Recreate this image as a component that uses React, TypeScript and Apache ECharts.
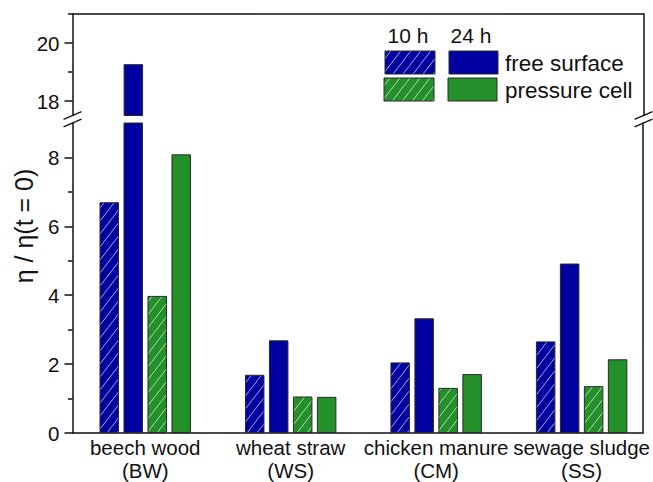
import React, { useEffect, useRef } from "react";
import * as echarts from "echarts";

// Feedstocks along the x axis
const categories = ["beech wood\n(BW)", "wheat straw\n(WS)", "chicken manure\n(CM)", "sewage sludge\n(SS)"];

// Relative viscosity η / η(t = 0)
const free10h = [6.7, 1.69, 2.05, 2.66];
const free24h = [19.27, 2.69, 3.33, 4.92];
const pressure10h = [3.98, 1.06, 1.31, 1.36];
const pressure24h = [8.09, 1.05, 1.71, 2.14];

// Broken y axis: lower and upper segments
const lowerRange = [0, 9];
const upperRange = [17.5, 21];
const lowerMajorTicks = [0, 2, 4, 6, 8];
const lowerMinorTicks = [1, 3, 5, 7];
const upperMajorTicks = [18, 20];
const upperMinorTicks = [19, 21];
const categoryPositions = [1, 2, 3, 4];

const BLUE = "#0000a0";
const GREEN = "#23902a";
const INK = "#111";
const FONT = "Liberation Sans, Arial, sans-serif";

function hatch(base: string) {
  const w = 10;
  const h = 13;
  const c = document.createElement("canvas");
  c.width = w;
  c.height = h;
  const ctx = c.getContext("2d")!;
  ctx.fillStyle = base;
  ctx.fillRect(0, 0, w, h);
  ctx.strokeStyle = "rgba(255,255,255,0.65)";
  ctx.lineWidth = 1;
  for (let k = -1; k <= 1; k++) {
    ctx.beginPath();
    ctx.moveTo(k * w - w, 2 * h);
    ctx.lineTo(k * w + 2 * w, -h);
    ctx.stroke();
  }
  return { image: c, repeat: "repeat", imageWidth: w, imageHeight: h } as any;
}

export default function App() {
  const ref = useRef<HTMLDivElement>(null);

  useEffect(() => {
    document.body.style.margin = "0";
    const chart = echarts.init(ref.current!, null, { renderer: "svg" });

    const left = 72.5;
    const right = 653 - 643.5;
    const upperTop = 14;
    const upperBottom = 115.5;
    const lowerTop = 123;
    const lowerBottom = 433.5;

    const blueHatch = hatch(BLUE);
    const greenHatch = hatch(GREEN);

    const seriesDefs = [
      { name: "free surface 10 h", values: free10h, color: blueHatch },
      { name: "free surface 24 h", values: free24h, color: BLUE },
      { name: "pressure cell 10 h", values: pressure10h, color: greenHatch },
      { name: "pressure cell 24 h", values: pressure24h, color: GREEN },
    ];

    const lineStyle = { color: INK, width: 1.5 };

    const yAxisSet = (gridIndex: number, range: number[], major: number[], minor: number[]) => [
      {
        type: "value",
        gridIndex,
        min: range[0],
        max: range[1],
        position: "left",
        splitLine: { show: false },
        axisLine: { show: true, lineStyle },
        axisTick: { show: true, length: 8, customValues: major, lineStyle },
        axisLabel: { customValues: major, margin: 13, fontSize: 20.5, color: INK, fontFamily: FONT },
      },
      {
        type: "value",
        gridIndex,
        min: range[0],
        max: range[1],
        position: "left",
        splitLine: { show: false },
        axisLine: { show: false },
        axisTick: { show: true, length: 4.5, customValues: minor, lineStyle },
        axisLabel: { show: false },
      },
      {
        type: "value",
        gridIndex,
        min: range[0],
        max: range[1],
        position: "right",
        splitLine: { show: false },
        axisLine: { show: true, lineStyle },
        axisTick: { show: false },
        axisLabel: { show: false },
      },
    ];

    const series: any[] = [];
    [0, 1].forEach((g) => {
      seriesDefs.forEach((s) => {
        series.push({
          type: "bar",
          name: s.name,
          xAxisIndex: g,
          yAxisIndex: g * 3,
          barWidth: 19.5,
          barGap: "23%",
          clip: true,
          itemStyle: { color: s.color, borderColor: "#2a2a2a", borderWidth: 1 },
          data: s.values.map((v, i) => [
            categoryPositions[i],
            g === 0 ? (v > lowerRange[1] ? v : "-") : v,
          ]),
        });
      });
    });

    // break marks on the y axis spines
    const slash = (cx: number, cy: number) => ({
      type: "line",
      shape: { x1: cx - 9, y1: cy + 3.8, x2: cx + 9, y2: cy - 3.8 },
      style: { stroke: INK, lineWidth: 1.3 },
      z: 10,
    });
    const xl = left;
    const xr = 653 - right;

    const textStyle = (extra: any) => ({ fill: INK, fontFamily: FONT, ...extra });

    chart.setOption({
      animation: false,
      grid: [
        { left, right, top: upperTop, height: upperBottom - upperTop },
        { left, right, top: lowerTop, height: lowerBottom - lowerTop },
      ],
      xAxis: [
        {
          type: "value",
          gridIndex: 0,
          min: 0.5,
          max: 4.42,
          position: "top",
          splitLine: { show: false },
          axisLine: { show: true, onZero: false, lineStyle },
          axisTick: { show: false },
          axisLabel: { show: false },
        },
        {
          type: "value",
          gridIndex: 1,
          min: 0.5,
          max: 4.42,
          position: "bottom",
          splitLine: { show: false },
          axisLine: { show: true, onZero: false, lineStyle },
          axisTick: { show: false },
          axisLabel: {
            customValues: categoryPositions,
            formatter: (v: number) => categories[Math.round(v) - 1],
            margin: 3,
            fontSize: 20.5,
            lineHeight: 23,
            color: INK,
            fontFamily: FONT,
          },
        },
      ],
      yAxis: [
        ...yAxisSet(0, upperRange, upperMajorTicks, upperMinorTicks),
        ...yAxisSet(1, lowerRange, lowerMajorTicks, lowerMinorTicks),
      ],
      series,
      graphic: [
        slash(xl, upperBottom),
        slash(xl, lowerTop),
        slash(xr, upperBottom),
        slash(xr, lowerTop),
        {
          type: "text",
          x: 24,
          y: 226,
          rotation: Math.PI / 2,
          style: textStyle({ text: "η / η(t = 0)", fontSize: 25, align: "center", verticalAlign: "middle" }),
        },
        { type: "text", x: 408, y: 35, style: textStyle({ text: "10 h", fontSize: 21, align: "center", verticalAlign: "middle" }) },
        { type: "text", x: 471, y: 35, style: textStyle({ text: "24 h", fontSize: 21, align: "center", verticalAlign: "middle" }) },
        { type: "rect", shape: { x: 385, y: 51, width: 50, height: 23 }, style: { fill: blueHatch, stroke: "#2a2a2a", lineWidth: 1 } },
        { type: "rect", shape: { x: 449, y: 51, width: 49, height: 23 }, style: { fill: BLUE, stroke: "#2a2a2a", lineWidth: 1 } },
        { type: "rect", shape: { x: 384, y: 78, width: 50, height: 23 }, style: { fill: greenHatch, stroke: "#2a2a2a", lineWidth: 1 } },
        { type: "rect", shape: { x: 448, y: 78, width: 49, height: 23 }, style: { fill: GREEN, stroke: "#2a2a2a", lineWidth: 1 } },
        { type: "text", x: 505, y: 63, style: textStyle({ text: "free surface", fontSize: 22.5, align: "left", verticalAlign: "middle" }) },
        { type: "text", x: 505, y: 90, style: textStyle({ text: "pressure cell", fontSize: 22.5, align: "left", verticalAlign: "middle" }) },
      ],
    });

    return () => chart.dispose();
  }, []);

  return <div ref={ref} style={{ width: 653, height: 482 }} />;
}
